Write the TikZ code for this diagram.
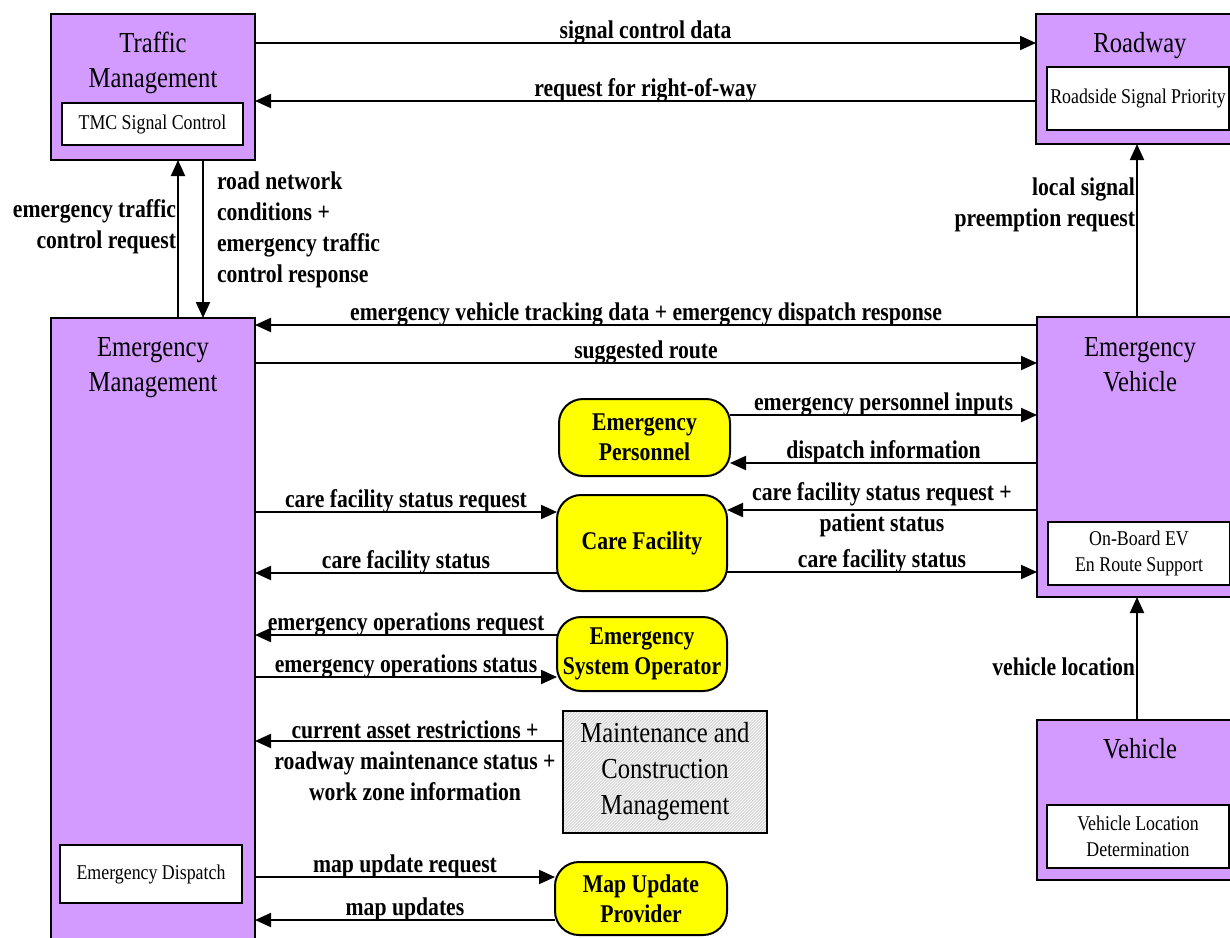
\documentclass[tikz,border=0pt]{standalone}
\usepackage{fontspec}
\setmainfont{Liberation Serif}[FakeStretch=0.85]
\usetikzlibrary{positioning, arrows.meta, patterns}
\definecolor{sysviolet}{RGB}{211,155,255}
\definecolor{termyellow}{RGB}{255,255,0}
\tikzset{
  sysbox/.style={
    draw, rectangle, fill=sysviolet, line width=2.5pt,
    inner sep=0pt, outer sep=0pt
  },
  subbox/.style={
    draw, rectangle, fill=white, line width=1.8pt,
    minimum width=182pt, inner sep=0pt, outer sep=0pt,
    font=\fontsize{21}{26}\selectfont, align=center
  },
  systitle/.style={inner sep=0pt, font=\fontsize{29}{35}\selectfont, align=center},
  termbox/.style={
    draw, rectangle, rounded corners=24pt, fill=termyellow, line width=2pt,
    inner sep=0pt, outer sep=0pt,
    font=\bfseries\fontsize{25.5}{30}\selectfont, align=center
  },
  hatchbox/.style={
    draw, rectangle, preaction={fill=gray!30},
    pattern=north east lines, pattern color=white, line width=2pt,
    inner sep=0pt, outer sep=0pt,
    font=\fontsize{29}{36}\selectfont, align=center
  },
  lbl/.style={font=\bfseries\fontsize{25.5}{31}\selectfont, inner sep=1pt, align=center},
  toplbl/.style={lbl, above=-3pt},
  flow/.style={-{Triangle[length=16pt, width=14pt]}, line width=2pt},
}
\begin{document}
\begin{tikzpicture}[x=1pt, y=-1pt]
        \useasboundingbox (0,0) rectangle (1230,937);
        \clip (0,0) rectangle (1230,937);
        % systems
        \node[sysbox, minimum width=204pt, minimum height=146pt] (tm) at (153,87) {};
        \node[systitle] (tmtitle) at (153,63) {Traffic\\Management};
        \node[subbox, minimum width=181pt, minimum height=42pt] (tmsc) at (152.5,124) {TMC Signal Control};
        \node[sysbox, minimum width=205pt, minimum height=130pt] (rw) at (1138.5,79) {};
        \node[systitle] (rwtitle) at (1140,46) {Roadway};
        \node[subbox, minimum height=63pt] (rsp) at (1138,98.5) {Roadside Signal Priority};
        \node[sysbox, minimum width=204pt, minimum height=632pt] (em) at (153,634) {};
        \node[systitle] (emtitle) at (153,368) {Emergency\\Management};
        \node[subbox, minimum height=58pt] (edisp) at (151,874) {Emergency Dispatch};
        \node[sysbox, minimum width=205pt, minimum height=280pt] (ev) at (1139.5,457) {};
        \node[systitle] (evtitle) at (1140,365) {Emergency\\Vehicle};
        \node[subbox, minimum height=63pt] (obev) at (1139,553.5) {On-Board EV\\En Route Support};
        \node[sysbox, minimum width=205pt, minimum height=160pt] (veh) at (1139.5,800) {};
        \node[systitle] (vehtitle) at (1140,749) {Vehicle};
        \node[subbox, minimum height=63pt] (vld) at (1138,836.5) {Vehicle Location\\Determination};
        % terminators
        \node[termbox, minimum width=171pt, minimum height=77pt] (ep) at (644.5,437.5) {Emergency\\Personnel};
        \node[termbox, minimum width=170pt, minimum height=96pt] (cf) at (642,543) {Care Facility};
        \node[termbox, minimum width=170pt, minimum height=74pt] (eso) at (642,654) {Emergency\\System Operator};
        \node[termbox, minimum width=172pt, minimum height=73pt] (mup) at (641,898.5) {Map Update\\Provider};
        \node[hatchbox, minimum width=204pt, minimum height=122pt] (mcm) at (665,772) {Maintenance and\\Construction\\Management};
        % flows
        \draw[flow] (tm.east |- 0,43) -- node[toplbl] (lscd) {signal control data} (rw.west |- 0,43);
        \draw[flow] (rw.west |- 0,101) -- node[toplbl] (lrow) {request for right-of-way} (tm.east |- 0,101);
        \draw[flow] (em.north -| 178,0) -- node[lbl, left, pos=0.58, align=right] (letc)
          {emergency traffic\\control request} (tm.south -| 178,0);
        \draw[flow] (tm.south -| 203,0) -- node[lbl, right=12pt, pos=0.44, align=left] (lrnc)
          {road network\\conditions +\\emergency traffic\\control response} (em.north -| 203,0);
        \draw[flow] (ev.north -| 1137,0) -- node[lbl, left, pos=0.65, align=right] (llsp)
          {local signal\\preemption request} (rw.south -| 1137,0);
        \draw[flow] (ev.west |- 0,325) -- node[toplbl] (levt)
          {emergency vehicle tracking data + emergency dispatch response} (em.east |- 0,325);
        \draw[flow] (em.east |- 0,363) -- node[toplbl] (lsr) {suggested route} (ev.west |- 0,363);
        \draw[flow] (ep.east |- 0,415) -- node[toplbl] (lepi) {emergency personnel inputs} (ev.west |- 0,415);
        \draw[flow] (ev.west |- 0,463) -- node[toplbl] (ldi) {dispatch information} (ep.east |- 0,463);
        \draw[flow] (em.east |- 0,512) -- node[toplbl] (lcfr) {care facility status request} (cf.west |- 0,512);
        \draw[flow] (ev.west |- 0,510) -- node[lbl] (lcfp)
          {care facility status request +\\patient status} (cf.east |- 0,510);
        \draw[flow] (cf.west |- 0,573) -- node[toplbl] (lcfs) {care facility status} (em.east |- 0,573);
        \draw[flow] (cf.east |- 0,572) -- node[toplbl] (lcfe) {care facility status} (ev.west |- 0,572);
        \draw[flow] (eso.west |- 0,635) -- node[toplbl] (leor) {emergency operations request} (em.east |- 0,635);
        \draw[flow] (em.east |- 0,677) -- node[toplbl] (leos) {emergency operations status} (eso.west |- 0,677);
        \draw[flow] (mcm.west |- 0,741) -- (em.east |- 0,741);
        \node[lbl] (lmcm) at (415,761) {current asset restrictions +\\roadway maintenance status +\\work zone information};
        \draw[flow] (veh.north -| 1137,0) -- node[lbl, left, pos=0.43] (lvl) {vehicle location} (ev.south -| 1137,0);
        \draw[flow] (em.east |- 0,877) -- node[toplbl] (lmur) {map update request} (mup.west |- 0,877);
        \draw[flow] (mup.west |- 0,920) -- node[toplbl] (lmu) {map updates} (em.east |- 0,920);
\end{tikzpicture}
\end{document}
